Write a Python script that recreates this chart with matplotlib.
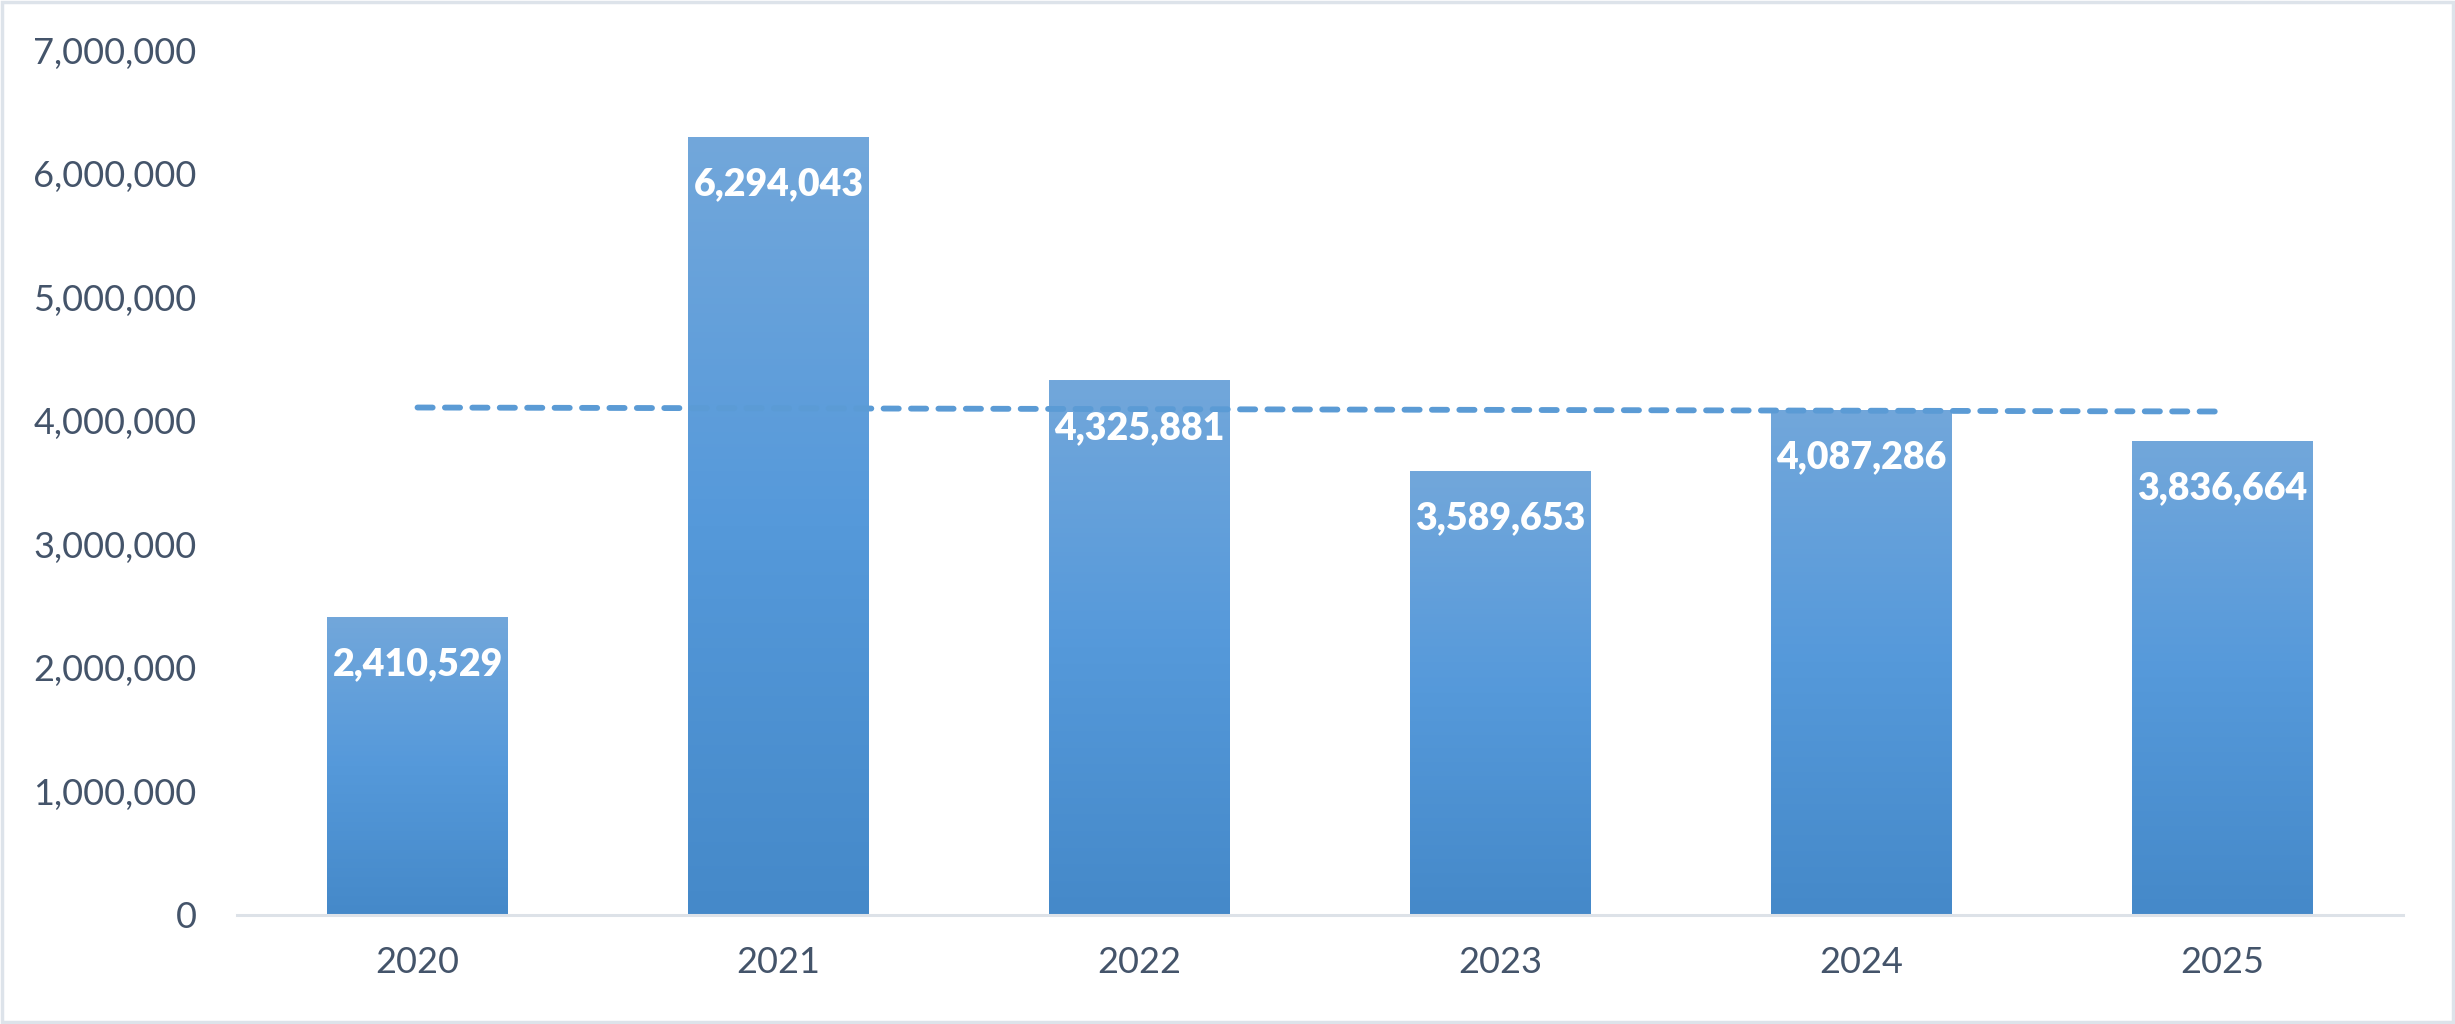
import matplotlib.pyplot as plt
import numpy as np
from matplotlib.colors import LinearSegmentedColormap
from matplotlib.patches import Rectangle
from matplotlib.ticker import FuncFormatter

years = ['2020', '2021', '2022', '2023', '2024', '2025']
values = [2410529, 6294043, 4325881, 3589653, 4087286, 3836664]
y_ticks = [0, 1000000, 2000000, 3000000, 4000000, 5000000, 6000000, 7000000]

plt.rcParams['font.family'] = ['Lato', 'DejaVu Sans']

text_color = '#44546A'
line_color = '#5B9BD5'
bar_cmap = LinearSegmentedColormap.from_list(
    'bar', ['#4589C9', '#5599DA', '#72A7DB'])

fig = plt.figure(figsize=(24.55, 10.24), dpi=100)
ax = fig.add_axes([237 / 2455, 1 - 915 / 1024, 2166 / 2455, 865 / 1024])

x = np.arange(len(years))
bars = ax.bar(x, values, width=0.5, color='none', lw=0, zorder=2)

# Excel style vertical gradient, one per bar
grad = np.linspace(0, 1, 256).reshape(-1, 1)
for bar in bars:
    x0, y0 = bar.get_x(), bar.get_y()
    w, h = bar.get_width(), bar.get_height()
    img = ax.imshow(grad, cmap=bar_cmap, origin='lower', aspect='auto',
                    extent=[x0, x0 + w, y0, y0 + h], zorder=2)
    img.set_clip_path(bar)

# Data labels inside the bar end
for xi, v in zip(x, values):
    ax.annotate(f'{v:,}', (xi, v), xytext=(0, -34),
                textcoords='offset points', ha='center', va='center',
                color='white', fontsize=27, fontweight='heavy', zorder=4)

# Linear trendline
coef = np.polyfit(x, values, 1)
ax.plot(x, np.polyval(coef, x), color=line_color, lw=4.2,
        dashes=(2.6, 2.1), dash_capstyle='round', zorder=3)

ax.set_xlim(-0.5, len(years) - 0.5)
ax.set_ylim(0, 7000000)
ax.set_yticks(y_ticks)
ax.yaxis.set_major_formatter(FuncFormatter(lambda v, p: f'{int(v):,}'))
ax.set_xticks(x)
ax.set_xticklabels(years)

ax.tick_params(axis='both', length=0, labelsize=26, labelcolor=text_color)
ax.tick_params(axis='y', pad=29)
ax.tick_params(axis='x', pad=22)

for s in ['top', 'right', 'left']:
    ax.spines[s].set_visible(False)
ax.spines['bottom'].set_color('#DDE2E8')
ax.spines['bottom'].set_linewidth(2.2)

# Outer chart border
fig.patches.append(Rectangle((0.001, 0.002), 0.998, 0.996,
                             transform=fig.transFigure, fill=False,
                             edgecolor='#DDE3EA', lw=2.5))

fig.savefig('out.png', dpi=100, facecolor='white')
